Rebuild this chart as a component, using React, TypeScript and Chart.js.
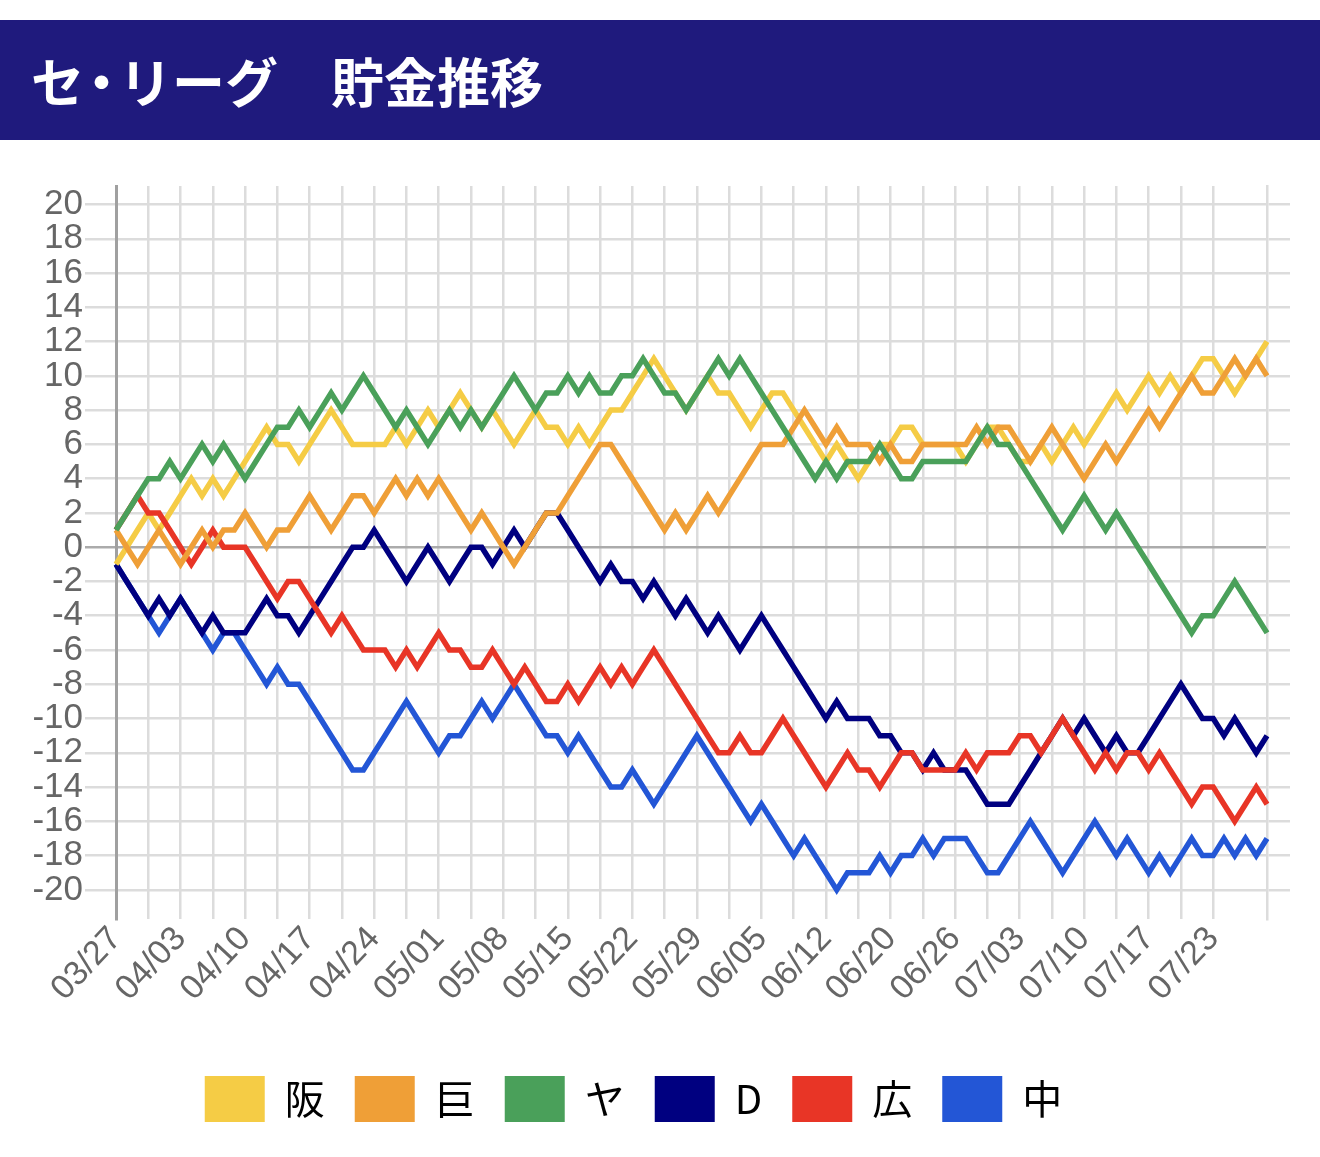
import { useEffect, useRef } from "react"
import { Chart, registerables } from "chart.js"

Chart.register(...registerables)

// game days (labels shown every 6th)
const dates = [
  "03/27", "03/28", "03/29", "03/31", "04/01", "04/02",
  "04/03", "04/04", "04/05", "04/07", "04/08", "04/09",
  "04/10", "04/11", "04/12", "04/14", "04/15", "04/16",
  "04/17", "04/18", "04/19", "04/21", "04/22", "04/23",
  "04/24", "04/25", "04/26", "04/28", "04/29", "04/30",
  "05/01", "05/02", "05/03", "05/05", "05/06", "05/07",
  "05/08", "05/09", "05/10", "05/12", "05/13", "05/14",
  "05/15", "05/16", "05/17", "05/19", "05/20", "05/21",
  "05/22", "05/23", "05/24", "05/26", "05/27", "05/28",
  "05/29", "05/30", "05/31", "06/02", "06/03", "06/04",
  "06/05", "06/06", "06/07", "06/09", "06/10", "06/11",
  "06/12", "06/13", "06/14", "06/16", "06/17", "06/19",
  "06/20", "06/21", "06/22", "06/23", "06/24", "06/25",
  "06/26", "06/27", "06/28", "06/30", "07/01", "07/02",
  "07/03", "07/04", "07/05", "07/07", "07/08", "07/09",
  "07/10", "07/11", "07/12", "07/14", "07/15", "07/16",
  "07/17", "07/18", "07/19", "07/20", "07/21", "07/22",
  "07/23", "07/25", "07/26", "07/27", "07/28", "07/29",
]

const teams = ["阪", "巨", "ヤ", "D", "広", "中"]

const hanshin = [
  -1, 0, 1, 2, 1, 2, 3, 4, 3, 4, 3, 4, 5, 6, 7, 6, 6, 5, 6, 7,
  8, 7, 6, 6, 6, 6, 7, 6, 7, 8, 7, 8, 9, 8, 7, 8, 7, 6, 7, 8,
  7, 7, 6, 7, 6, 7, 8, 8, 9, 10, 11, 10, 9, 8, 9, 10, 9, 9, 8, 7,
  8, 9, 9, 8, 7, 6, 5, 6, 5, 4, 5, 6, 6, 7, 7, 6, 6, 6, 6, 5,
  6, 7, 7, 6, 5, 5, 6, 5, 6, 7, 6, 7, 8, 9, 8, 9, 10, 9, 10, 9,
  10, 11, 11, 10, 9, 10, 11, 12,
]
const giants = [
  1, 0, -1, 0, 1, 0, -1, 0, 1, 0, 1, 1, 2, 1, 0, 1, 1, 2, 3, 2,
  1, 2, 3, 3, 2, 3, 4, 3, 4, 3, 4, 3, 2, 1, 2, 1, 0, -1, 0, 1,
  2, 2, 3, 4, 5, 6, 6, 5, 4, 3, 2, 1, 2, 1, 2, 3, 2, 3, 4, 5,
  6, 6, 6, 7, 8, 7, 6, 7, 6, 6, 6, 5, 6, 5, 5, 6, 6, 6, 6, 6,
  7, 6, 7, 7, 6, 5, 6, 7, 6, 5, 4, 5, 6, 5, 6, 7, 8, 7, 8, 9,
  10, 9, 9, 10, 11, 10, 11, 10,
]
const yakult = [
  1, 2, 3, 4, 4, 5, 4, 5, 6, 5, 6, 5, 4, 5, 6, 7, 7, 8, 7, 8,
  9, 8, 9, 10, 9, 8, 7, 8, 7, 6, 7, 8, 7, 8, 7, 8, 9, 10, 9, 8,
  9, 9, 10, 9, 10, 9, 9, 10, 10, 11, 10, 9, 9, 8, 9, 10, 11, 10, 11, 10,
  9, 8, 7, 6, 5, 4, 5, 4, 5, 5, 5, 6, 5, 4, 4, 5, 5, 5, 5, 5,
  6, 7, 6, 6, 5, 4, 3, 2, 1, 2, 3, 2, 1, 2, 1, 0, -1, -2, -3, -4,
  -5, -4, -4, -3, -2, -3, -4, -5,
]
const dena = [
  -1, -2, -3, -4, -3, -4, -3, -4, -5, -4, -5, -5, -5, -4, -3, -4, -4, -5, -4, -3,
  -2, -1, 0, 0, 1, 0, -1, -2, -1, 0, -1, -2, -1, 0, 0, -1, 0, 1, 0, 1,
  2, 2, 1, 0, -1, -2, -1, -2, -2, -3, -2, -3, -4, -3, -4, -5, -4, -5, -6, -5,
  -4, -5, -6, -7, -8, -9, -10, -9, -10, -10, -10, -11, -11, -12, -12, -13, -12, -13, -13, -13,
  -14, -15, -15, -15, -14, -13, -12, -11, -10, -11, -10, -11, -12, -11, -12, -12, -11, -10, -9, -8,
  -9, -10, -10, -11, -10, -11, -12, -11,
]
const hiroshima = [
  1, 2, 3, 2, 2, 1, 0, -1, 0, 1, 0, 0, 0, -1, -2, -3, -2, -2, -3, -4,
  -5, -4, -5, -6, -6, -6, -7, -6, -7, -6, -5, -6, -6, -7, -7, -6, -7, -8, -7, -8,
  -9, -9, -8, -9, -8, -7, -8, -7, -8, -7, -6, -7, -8, -9, -10, -11, -12, -12, -11, -12,
  -12, -11, -10, -11, -12, -13, -14, -13, -12, -13, -13, -14, -13, -12, -12, -13, -13, -13, -13, -12,
  -13, -12, -12, -12, -11, -11, -12, -11, -10, -11, -12, -13, -12, -13, -12, -12, -13, -12, -13, -14,
  -15, -14, -14, -15, -16, -15, -14, -15,
]
const chunichi = [
  -1, -2, -3, -4, -5, -4, -3, -4, -5, -6, -5, -5, -6, -7, -8, -7, -8, -8, -9, -10,
  -11, -12, -13, -13, -12, -11, -10, -9, -10, -11, -12, -11, -11, -10, -9, -10, -9, -8, -9, -10,
  -11, -11, -12, -11, -12, -13, -14, -14, -13, -14, -15, -14, -13, -12, -11, -12, -13, -14, -15, -16,
  -15, -16, -17, -18, -17, -18, -19, -20, -19, -19, -19, -18, -19, -18, -18, -17, -18, -17, -17, -17,
  -18, -19, -19, -18, -17, -16, -17, -18, -19, -18, -17, -16, -17, -18, -17, -18, -19, -18, -19, -18,
  -17, -18, -18, -17, -18, -17, -18, -17,
]

const series = [hanshin, giants, yakult, dena, hiroshima, chunichi]
const colors = ["#f5cc45", "#ef9f37", "#4aa05a", "#000080", "#e83526", "#2356d6"]
// lower number is drawn on top
const drawOrder = [4, 2, 1, 5, 3, 6]

const Y_MIN = -21.7
const Y_MAX = 21.08
const GRID = "#dcdcdc"
const ZERO_LINE = "#ababab"

export default function App() {
  const canvasRef = useRef<HTMLCanvasElement>(null)
  const chartRef = useRef<Chart | null>(null)

  useEffect(() => {
    if (!canvasRef.current) return
    const ctx = canvasRef.current.getContext("2d")
    if (!ctx) return

    chartRef.current = new Chart(ctx, {
      type: "line",
      data: {
        labels: dates,
        datasets: series.map((data, i) => ({
          label: teams[i],
          data,
          borderColor: colors[i],
          backgroundColor: colors[i],
          borderWidth: 5.5,
          pointRadius: 0,
          tension: 0,
          fill: false,
          order: drawOrder[i],
        })),
      },
      options: {
        responsive: false,
        animation: false,
        layout: { padding: { top: 46, right: 53, bottom: 25, left: 0 } },
        scales: {
          x: {
            type: "category",
            grid: {
              color: (c: any) => (c.index % 3 === 0 && c.index <= 102 ? GRID : "transparent"),
              lineWidth: 2.5,
              drawTicks: false,
            },
            border: { display: false },
            ticks: {
              autoSkip: false,
              minRotation: 47,
              maxRotation: 47,
              padding: 0,
              color: "#666",
              font: { family: "Liberation Sans", size: 34 },
              callback: (_v: any, i: number) => (i % 6 === 0 ? dates[i] : ""),
            },
            afterFit: (s: any) => {
              s.height = 127
            },
          },
          y: {
            position: "left",
            min: Y_MIN,
            max: Y_MAX,
            grid: {
              color: (c: any) => (c.tick && c.tick.value === 0 ? ZERO_LINE : GRID),
              lineWidth: 2.5,
              tickLength: 31,
            },
            border: { color: "#a0a0a0", width: 3 },
            ticks: {
              stepSize: 2,
              includeBounds: false,
              autoSkip: false,
              padding: 2,
              color: "#666",
              font: { family: "Liberation Sans", size: 35, lineHeight: 1 },
            },
            afterFit: (s: any) => {
              s.width = 116
            },
          },
          y2: {
            position: "right",
            min: Y_MIN,
            max: Y_MAX,
            grid: {
              drawOnChartArea: false,
              color: GRID,
              lineWidth: 2.5,
              tickLength: 23,
            },
            border: { color: GRID, width: 2.5 },
            ticks: { stepSize: 2, includeBounds: false, autoSkip: false, display: false },
            afterFit: (s: any) => {
              s.width = 0
            },
          },
        },
        plugins: {
          tooltip: { enabled: false },
          legend: {
            position: "bottom",
            labels: {
              boxWidth: 60,
              boxHeight: 46,
              padding: 30,
              color: "#000",
              font: { family: "Noto Sans CJK JP", size: 40 },
              sort: (a: any, b: any) => a.datasetIndex - b.datasetIndex,
              generateLabels: (chart: Chart) =>
                Chart.defaults.plugins.legend.labels
                  .generateLabels(chart)
                  .map((l: any) => ({ ...l, lineWidth: 0 })),
            },
          },
        },
      },
    })

    return () => {
      if (chartRef.current) {
        chartRef.current.destroy()
        chartRef.current = null
      }
    }
  }, [])

  return (
    <div style={{ position: "absolute", left: 0, top: 0, width: 1320, height: 1157, background: "#fff" }}>
      <div
        style={{
          position: "absolute",
          left: 0,
          top: 20,
          width: 1320,
          height: 120,
          lineHeight: "120px",
          paddingLeft: 31,
          boxSizing: "border-box",
          background: "#1f1a7d",
          color: "#fff",
          fontFamily: "'Noto Sans CJK JP', sans-serif",
          fontWeight: 700,
          fontSize: 53,
          whiteSpace: "pre",
        }}
      >
        セ<span style={{ margin: "0 -9px" }}>・</span>リーグ　貯金推移
      </div>
      <canvas
        ref={canvasRef}
        width={1320}
        height={1017}
        style={{ position: "absolute", left: 0, top: 140, width: 1320, height: 1017 }}
      />
    </div>
  )
}
